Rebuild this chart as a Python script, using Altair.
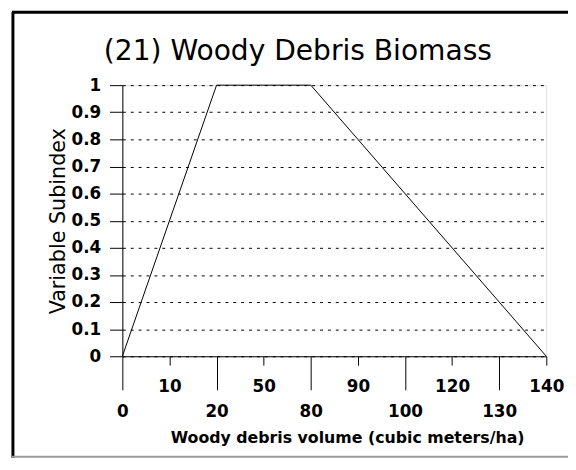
import altair as alt
import pandas as pd

# Tick categories along the x axis (equally spaced, as in the reference)
x_labels = ["0", "10", "20", "50", "80", "90", "100", "120", "130", "140"]
lower_row = ["0", "20", "80", "100", "130"]

# Curve break points
curve_x = ["0", "20", "80", "140"]
curve_y = [0.0, 1.0, 1.0, 0.0]

y_ticks = [0, 0.1, 0.2, 0.3, 0.4, 0.5, 0.6, 0.7, 0.8, 0.9, 1.0]

df = pd.DataFrame({"x": curve_x, "y": curve_y})
frame_df = pd.DataFrame({"k": [0]})

lower_test = "indexof(" + str(lower_row).replace('"', "'") + ", datum.value) >= 0"

x_enc = alt.X(
    "x:O",
    sort=x_labels,
    scale=alt.Scale(domain=x_labels, type="point", padding=0),
    axis=alt.Axis(
        title="Woody debris volume (cubic meters/ha)",
        titleFont="DejaVu Sans",
        titleFontWeight="bold",
        titleFontSize=16,
        titleColor="black",
        titleX=228,
        titleY=87,
        titleBaseline="alphabetic",
        labelAngle=0,
        labelFont="DejaVu Sans",
        labelFontWeight="bold",
        labelFontSize=17,
        labelColor="black",
        labelBaseline="alphabetic",
        labelOverlap=False,
        labelFlush=False,
        labelPadding=27,
        tickSize={"condition": {"test": lower_test, "value": 34}, "value": 9},
        tickColor="black",
        domainColor="black",
        grid=False,
    ),
)

y_enc = alt.Y(
    "y:Q",
    scale=alt.Scale(domain=[0, 1], nice=False),
    axis=alt.Axis(
        title="Variable Subindex",
        titleFont="DejaVu Sans",
        titleFontWeight="normal",
        titleFontSize=21,
        titleColor="black",
        titleX=-59,
        titleY=137.5,
        titleBaseline="alphabetic",
        titleAngle=-90,
        values=y_ticks,
        format="~g",
        labelFont="DejaVu Sans",
        labelFontWeight="bold",
        labelFontSize=17,
        labelColor="black",
        labelPadding=9,
        tickSize=13,
        tickColor="black",
        domainColor="black",
        grid=True,
        gridColor="black",
        gridDash=[3, 5],
        gridWidth=1,
    ),
)

curve = alt.Chart(df).mark_line(color="black", strokeWidth=1).encode(x=x_enc, y=y_enc)

frame_left = alt.Chart(frame_df).mark_rule(color="black", strokeWidth=3).encode(
    x=alt.value(-111), y=alt.value(-74), y2=alt.value(378)
)
frame_top = alt.Chart(frame_df).mark_rule(color="black", strokeWidth=3).encode(
    x=alt.value(-112), x2=alt.value(452), y=alt.value(-74)
)
frame_bottom = alt.Chart(frame_df).mark_rule(color="#9a9a9a", strokeWidth=2).encode(
    x=alt.value(-112), x2=alt.value(452), y=alt.value(377)
)

chart = (
    alt.layer(curve, frame_left, frame_top, frame_bottom)
    .properties(
        width=430,
        height=275,
        title=alt.TitleParams(
            "(21) Woody Debris Biomass",
            font="DejaVu Sans",
            fontSize=28.5,
            fontWeight="normal",
            color="black",
            anchor="middle",
            dx=-37,
            dy=93,
            baseline="alphabetic",
            offset=14,
        ),
        autosize=alt.AutoSizeParams(type="none"),
        padding={"left": 116, "top": 75, "right": 22, "bottom": 104},
    )
    .configure_view(stroke=None)
    .configure(background="white")
)

chart.save("out.html", embed_options={"renderer": "svg", "actions": False})
